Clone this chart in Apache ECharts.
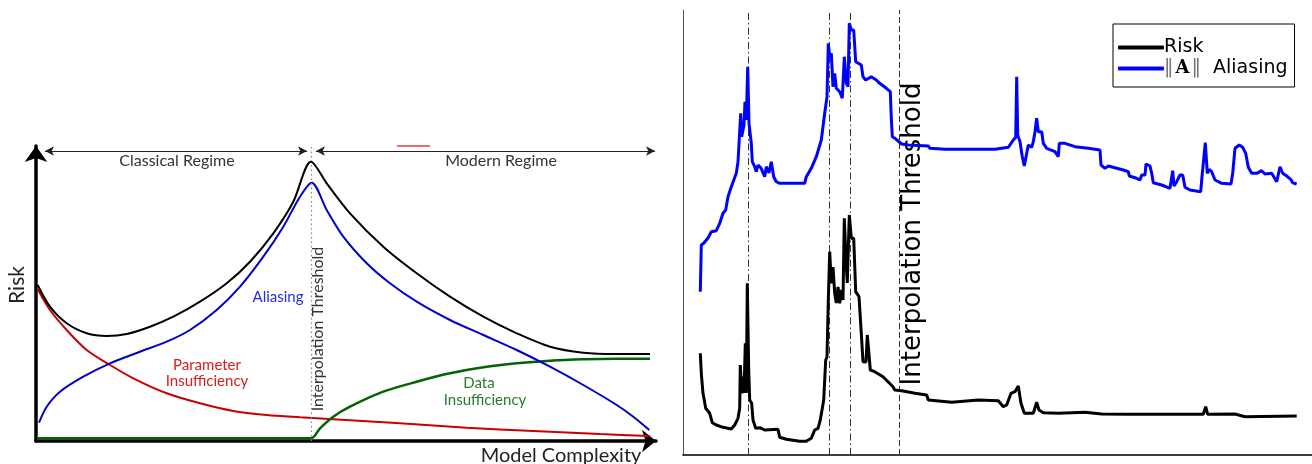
<!DOCTYPE html>
<html><head><meta charset="utf-8">
<script src="https://cdn.jsdelivr.net/npm/echarts@6/dist/echarts.min.js"></script>
<style>html,body{margin:0;padding:0;background:#fff}#c{width:1312px;height:464px}</style>
</head><body><div id="c"></div>
<script>
// ---------- Left panel (schematic) : [complexity, risk] ----------
// (peak values are listed twice so the curve keeps its sharp cusp)
const leftTotalRisk = [[1.7,156],[14,134.3],[30.7,117.7],[50.7,107.7],[70.7,105],[90.7,107],[114,114.3],[137.3,124.3],[164,139.3],[190.7,157.7],[214,179.3],[237.3,207.7],[257.3,239.3],[275,279.3],[275,279.3],[290.7,257.7],[314,227.7],[347.3,194.3],[380.7,167.7],[414,144.3],[447.3,124.3],[480.7,107.7],[514,94.3],[547.3,88.3],[580.7,87],[614,87]];
const leftAliasing = [[3,18.3],[10.7,34.3],[24,49.3],[47.3,64.3],[74,77.7],[104,89.3],[130.7,99.3],[154,111],[180.7,131],[204,154.3],[227.3,184.3],[247.3,214.3],[264,244.3],[275.7,258.3],[275.7,258.3],[290.7,231],[307.3,204.3],[330.7,177.7],[354,157.7],[380.7,139.3],[414,121],[447.3,106],[480.7,91],[514,74.3],[547.3,56],[580.7,36],[597.3,24.3],[613.3,11]];
const leftParamInsuff = [[1.7,151.7],[14,131],[30.7,111],[50.7,91],[74,76],[97.3,62.7],[130.7,47.7],[164,37.7],[197.3,30],[230.7,26],[264,23.7],[297.3,21.7],[364,17.7],[430.7,13.3],[497.3,10],[564,7],[614,5]];
const leftDataInsuff = [[1,2.7],[275,2.7],[275,2.7],[284,12.7],[297.3,24.3],[314,34.3],[347.3,49.3],[380.7,59.3],[414,67.7],[447.3,73.7],[480.7,77.7],[514,80.3],[547.3,81.7],[580.7,82.3],[614,82.3]];
const leftStrayMark = [[361,295],[394,295]];
const leftThreshold = 275;
const classicalSpan = [9, 271];
const modernSpan = [280, 619];
const regimeLevel = 290;

// ---------- Right panel (measured) : [step, value] ----------
const rightRisk = [[17.3,101.7],[18.3,81.7],[20,61.7],[22.7,46.7],[26.7,41.7],[29.3,32.3],[33.3,30],[40,27.7],[48.3,26],[51.7,30],[55,36.7],[56.7,46.7],[57.3,90],[58.7,61.7],[60,78.3],[61,62],[62.3,111.7],[63.3,62],[64.3,171.7],[65.7,85],[66.7,55],[68.7,51.7],[70,35],[72.7,26.7],[76.7,27.3],[81.7,25],[95,25.7],[96.7,17.7],[103.3,15.7],[116.7,13.7],[123.3,13.7],[128.3,16.7],[131.7,25],[135,26.7],[137.3,35],[140.7,55],[142.7,95],[144,98],[145.3,155],[146.7,203.3],[148.3,171.7],[150,188],[151.7,161.7],[153.3,152],[155,168],[156.7,151.7],[158.3,165],[160,155],[161.3,236.7],[163.3,188.3],[164.3,172],[166.3,240],[168.3,216.7],[170.7,216.7],[172.7,163.3],[176,158.3],[178.3,121.7],[180,93.3],[183,93],[184.3,120],[186,120],[187.3,85],[191.7,83.3],[200,78.3],[210,68.3],[211.7,65],[218.7,64.3],[232,61.7],[243.7,60],[245.3,55],[268.7,52.7],[295.3,55],[315.3,54.3],[320.3,48.3],[323.7,50],[328,61.7],[332,63.3],[335.3,69],[338,51.7],[341.3,41.7],[350.3,41.7],[353.7,52.7],[356,45],[360.3,42.3],[375.3,41.7],[377,42.7],[402,42.7],[418.7,41],[445.3,40.7],[520.3,40.7],[522.7,48.3],[524.7,40.7],[552,41],[562,38.3],[613.7,39]];
const rightAliasing = [[17.3,163.3],[18.3,210],[20.7,211.7],[25,217],[28.3,223.3],[33.3,224.3],[36.7,231.7],[40,241.7],[42.7,245],[45,258.3],[48.3,268.3],[53.3,281.7],[55,293.3],[56.7,295],[57.7,341.7],[58.7,318.3],[61,330],[62,353.3],[63.3,335],[64.7,388.3],[66,331.7],[68.3,311.7],[69.3,293.3],[71.7,288.3],[73.3,283.3],[75,290],[78,287],[80,287],[81.7,278.3],[83.3,288.3],[86,282],[88.3,293.3],[90.7,278.3],[93.3,273.3],[96.7,271.7],[121.7,271.7],[123.3,278.3],[128.3,286.7],[133.3,298.3],[138.3,315],[141.7,341.7],[144,358.3],[145.3,411.7],[146.7,398.3],[148.3,401.7],[150,368.3],[151.7,381.7],[153.3,366.7],[156.7,363.3],[159.3,356.7],[161.3,398.3],[163.3,371.7],[165,368.3],[166.3,431.7],[168.3,425],[170.7,425],[172.7,393.3],[178.3,390],[180,378.3],[182.7,375],[188.3,378.3],[193.3,375],[196.7,371.7],[203.3,366.7],[207.3,363.3],[208.3,336.7],[209.3,318.3],[212,316.7],[218.7,311],[225.3,310],[245.3,309],[247,306.7],[262,305.7],[312,305.7],[325.3,307.7],[330.3,315],[332.7,317.7],[333.7,378.3],[334.7,320],[337,313.3],[339.3,298.3],[341.3,289],[343.7,301.7],[345.3,310],[348.7,307.7],[350.3,313.3],[352,323.3],[353.7,336.7],[355.3,323.3],[358.7,323.3],[360.3,311.7],[363.7,306.7],[372,303.3],[375.3,298.3],[376.3,311.7],[382,311.7],[392,308.3],[405.3,306.7],[417,305],[418,290],[422,286.7],[425.3,289],[440.3,285],[445.3,283.3],[446.3,279],[453.7,276.7],[457,275],[458.7,280],[462,280],[463,291],[467,289],[468.7,281.7],[470.3,272.3],[478.7,270],[487,266.7],[489.7,284.3],[491,269],[493.7,273.3],[497,280],[499.7,280],[502,267.7],[507,265],[517.7,263.3],[518.7,275],[522.3,312.3],[524.3,281.7],[526.3,285.7],[528.7,283.3],[532,275],[538.7,271.7],[548,271],[549.7,281.7],[552,306.7],[556.3,310],[559.7,307.7],[562.7,301.7],[565.3,287.7],[568.7,281.7],[573.7,281.7],[578.7,284.3],[582,281],[588.7,281.7],[593.7,273.3],[597,288.3],[599.7,281.7],[603.7,279],[607.7,275.7],[609.7,272.3],[613.7,271]];
const rightDashDotMarks = [65, 146, 167];
const rightThreshold = 216;
const legendNames = ['Risk', '‖A‖ Aliasing'];

const chart = echarts.init(document.getElementById('c'), null, {renderer: 'canvas'});
const lf = 'Lato';
const df = 'DejaVu Sans';

function hiddenAxisParts(){ return {axisTick:{show:false}, axisLabel:{show:false}, splitLine:{show:false}}; }

const option = {
  animation: false,
  backgroundColor: '#fff',
  grid: [
    {left: 36, top: 146, width: 620, height: 295},
    {left: 683, top: 10, width: 629, height: 445}
  ],
  xAxis: [
    Object.assign({type:'value', gridIndex:0, min:0, max:620,
      axisLine:{show:true, onZero:false, symbol:['none','arrow'], symbolSize:[17,14], lineStyle:{color:'#000', width:3.5}}}, hiddenAxisParts()),
    Object.assign({type:'value', gridIndex:1, min:0, max:629,
      axisLine:{show:true, onZero:false, lineStyle:{color:'#000', width:1.5}}}, hiddenAxisParts())
  ],
  yAxis: [
    Object.assign({type:'value', gridIndex:0, min:0, max:295,
      axisLine:{show:true, onZero:false, symbol:['none','arrow'], symbolSize:[17,16], lineStyle:{color:'#000', width:3.5}}}, hiddenAxisParts()),
    Object.assign({type:'value', gridIndex:1, min:0, max:445,
      axisLine:{show:true, onZero:false, lineStyle:{color:'#555', width:1}}}, hiddenAxisParts())
  ],
  legend: {
    data: legendNames,
    orient: 'vertical',
    left: 1113, top: 24,
    padding: [13, 7, 8, 5],
    itemGap: 0,
    itemWidth: 46, itemHeight: 4,
    icon: 'roundRect',
    borderColor: '#000', borderWidth: 1, borderRadius: 0,
    backgroundColor: '#fff',
    formatter: function(n){ return n === 'Risk' ? '{t|Risk}' : '{g|‖}{b|A}{g|‖}{t|  Aliasing}'; },
    textStyle: {
      fontFamily: df, fontSize: 19, color: '#000', lineHeight: 21, padding:[0,0,0,-5],
      rich: {
        t: {fontFamily: df, fontSize: 19, color:'#000', lineHeight: 21},
        g: {fontFamily: df, fontSize: 19, color:'#777', lineHeight: 21},
        b: {fontFamily: 'DejaVu Serif', fontWeight: 'bold', fontSize: 18, color:'#000', lineHeight: 21, padding:[0,2,0,2]}
      }
    }
  },
  series: [
    {name:'Total risk (schematic)', type:'line', xAxisIndex:0, yAxisIndex:0, data:leftTotalRisk, showSymbol:false, smooth:0.3,
     lineStyle:{color:'#000', width:2}, z:5,
     markLine:{silent:true, symbol:['none','none'], label:{show:false},
       lineStyle:{color:'#888', width:1.2, type:[1.5,3]},
       data:[{xAxis:leftThreshold}]}},
    {name:'Aliasing (schematic)', type:'line', xAxisIndex:0, yAxisIndex:0, data:leftAliasing, showSymbol:false, smooth:0.3,
     lineStyle:{color:'#0000c8', width:2}, z:4,
     markLine:{silent:true, symbol:['arrow','arrow'], symbolSize:[7,9], label:{show:false},
       lineStyle:{color:'#222', width:1, type:'solid'},
       data:[
         [{coord:[classicalSpan[0], regimeLevel]}, {coord:[classicalSpan[1], regimeLevel]}],
         [{coord:[modernSpan[0], regimeLevel]}, {coord:[modernSpan[1], regimeLevel]}]
       ]}},
    {name:'Parameter insufficiency', type:'line', xAxisIndex:0, yAxisIndex:0, data:leftParamInsuff, showSymbol:false, smooth:0.3,
     lineStyle:{color:'#c80000', width:2}, z:3},
    {name:'Data insufficiency', type:'line', xAxisIndex:0, yAxisIndex:0, data:leftDataInsuff, showSymbol:false, smooth:0.3,
     lineStyle:{color:'#006400', width:2.5}, z:3},
    {name:'stray', type:'line', xAxisIndex:0, yAxisIndex:0, data:leftStrayMark, showSymbol:false, clip:false,
     lineStyle:{color:'#e04040', width:1.5}, z:3},
    {name:'Risk', type:'line', xAxisIndex:1, yAxisIndex:1, data:rightRisk, showSymbol:false, symbol:'none',
     lineStyle:{color:'#000', width:3}, itemStyle:{color:'#000'}, z:5,
     markLine:{silent:true, symbol:['none','none'], label:{show:false},
       lineStyle:{color:'#333', width:1, type:[7,3,1.5,3]},
       data: rightDashDotMarks.map(v => ({xAxis:v}))}},
    {name:'‖A‖ Aliasing', type:'line', xAxisIndex:1, yAxisIndex:1, data:rightAliasing, showSymbol:false, symbol:'none',
     lineStyle:{color:'#0000ff', width:3}, itemStyle:{color:'#0000ff'}, z:5,
     markLine:{silent:true, symbol:['none','none'], label:{show:false},
       lineStyle:{color:'#333', width:1, type:[6,3]},
       data:[{xAxis:rightThreshold}]}}
  ],
  graphic: [
    {type:'text', x:177, y:161, style:{text:'Classical Regime', font:'16px '+lf, fill:'#333', align:'center', verticalAlign:'middle'}},
    {type:'text', x:501, y:161, style:{text:'Modern Regime', font:'16px '+lf, fill:'#333', align:'center', verticalAlign:'middle'}},
    {type:'text', x:17, y:285, rotation:Math.PI/2, style:{text:'Risk', font:'21px '+lf, fill:'#222', align:'center', verticalAlign:'middle'}},
    {type:'text', x:561, y:456, style:{text:'Model Complexity', font:'20px '+lf, fill:'#222', align:'center', verticalAlign:'middle'}},
    {type:'text', x:318, y:329, rotation:Math.PI/2, style:{text:'Interpolation Threshold', font:'16px '+lf, fill:'#333', align:'center', verticalAlign:'middle'}},
    {type:'text', x:278, y:297, style:{text:'Aliasing', font:'15px '+lf, fill:'#2a2ae6', align:'center', verticalAlign:'middle'}},
    {type:'text', x:207, y:365, style:{text:'Parameter', font:'15px '+lf, fill:'#d42020', align:'center', verticalAlign:'middle'}},
    {type:'text', x:207, y:381, style:{text:'Insufficiency', font:'15px '+lf, fill:'#d42020', align:'center', verticalAlign:'middle'}},
    {type:'text', x:479, y:383, style:{text:'Data', font:'15px '+lf, fill:'#2a7a2a', align:'center', verticalAlign:'middle'}},
    {type:'text', x:485, y:400, style:{text:'Insufficiency', font:'15px '+lf, fill:'#2a7a2a', align:'center', verticalAlign:'middle'}},
    {type:'text', x:913, y:234, rotation:Math.PI/2, style:{text:'Interpolation Threshold', font:'26px '+df, fill:'#000', align:'center', verticalAlign:'middle'}}
  ]
};
chart.setOption(option);
</script>
</body></html>
